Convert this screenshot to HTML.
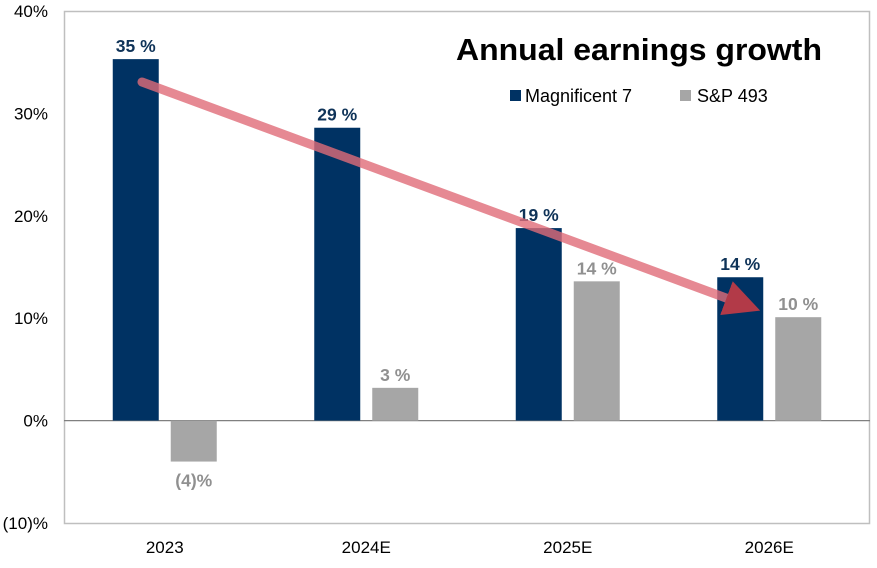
<!DOCTYPE html>
<html><head><meta charset="utf-8"><style>
body{margin:0;background:#fff;}
svg{display:block;font-family:"Liberation Sans",Arial,sans-serif;}
</style></head><body>
<svg id="chart" width="877" height="568" viewBox="0 0 877 568">
<defs>
<marker id="ah" markerWidth="4" markerHeight="4" refX="2.2" refY="2" orient="auto" markerUnits="strokeWidth">
<path d="M0,0 L4,2 L0,4 Z" fill="#b23a48"/>
</marker>
</defs>
<rect x="64.5" y="11.5" width="805" height="512" fill="#fff" stroke="#bfbfbf" stroke-width="1.5"/>
<g id="yaxis"></g>
<g id="bars"></g>
<g id="xaxis"></g>
<line id="arrow" stroke="#e06b78" stroke-opacity="0.8" stroke-width="9" stroke-linecap="round" marker-end="url(#ah)"/>
<text x="822" y="60" text-anchor="end" font-size="31" font-weight="bold" textLength="366" lengthAdjust="spacingAndGlyphs" fill="#000">Annual earnings growth</text>
<g>
<g><rect x="510" y="90" width="11" height="11" fill="#003263"/><text x="525" y="102" font-size="18">Magnificent 7</text></g>
<g><rect x="680" y="90" width="11" height="11" fill="#a6a6a6"/><text x="697" y="102" font-size="18">S&amp;P 493</text></g>
</g>
</svg>
<script>
const categories=["2023","2024E","2025E","2026E"];
const mag7=[35.3,28.6,18.8,14.0];
const sp493=[-4.0,3.2,13.6,10.1];
const mag7Labels=["35 %","29 %","19 %","14 %"];
const spLabels=["(4)%","3 %","14 %","10 %"];
const yTicks=[40,30,20,10,0,-10];
const yTickLabels=["40%","30%","20%","10%","0%","(10)%"];
const NS="http://www.w3.org/2000/svg";
const x0=64,catW=201.5,yTop=11,yBot=523,vMax=40,vMin=-10;
const y=v=>yTop+(vMax-v)/(vMax-vMin)*(yBot-yTop);
const cx=i=>x0+catW*(i+0.5);
function mk(t,a,p){const e=document.createElementNS(NS,t);for(const k in a)e.setAttribute(k,a[k]);p.appendChild(e);return e;}
const ya=document.getElementById('yaxis'),bg=document.getElementById('bars'),xa=document.getElementById('xaxis');
yTicks.forEach((t,i)=>{const e=mk('text',{x:48,y:y(t)+6,'text-anchor':'end','font-size':'17',fill:'#000'},ya);e.textContent=yTickLabels[i];

});
const zl=mk('line',{x1:x0,x2:870,y1:y(0),y2:y(0),stroke:'#808080','stroke-width':1.2},ya);


const bw=46;
categories.forEach((c,i)=>{
 const m=mag7[i],s=sp493[i];
 const b1=mk('rect',{x:cx(i)-52,y:Math.min(y(m),y(0)),width:bw,height:Math.abs(y(m)-y(0)),fill:'#003263'},bg);
 
 
 const b2=mk('rect',{x:cx(i)+6,y:Math.min(y(s),y(0)),width:bw,height:Math.abs(y(s)-y(0)),fill:'#a6a6a6'},bg);
 
 
 const l1=mk('text',{x:cx(i)-29,y:y(m)-7,'text-anchor':'middle','font-size':'17.5','font-weight':'bold',fill:'#0f3358'},bg);l1.textContent=mag7Labels[i];
 
 
 const ly=s>=0?y(s)-7:y(s)+25;
 const l2=mk('text',{x:cx(i)+29,y:ly,'text-anchor':'middle','font-size':'17.5','font-weight':'bold',fill:'#909090'},bg);l2.textContent=spLabels[i];
 
 
 const xl=mk('text',{x:cx(i),y:553,'text-anchor':'middle','font-size':'17',fill:'#000'},xa);xl.textContent=c;
 
 
});
const ar=document.getElementById('arrow');
ar.setAttribute('x1',142);ar.setAttribute('y1',82);ar.setAttribute('x2',745);ar.setAttribute('y2',305);
</script>
</body></html>
